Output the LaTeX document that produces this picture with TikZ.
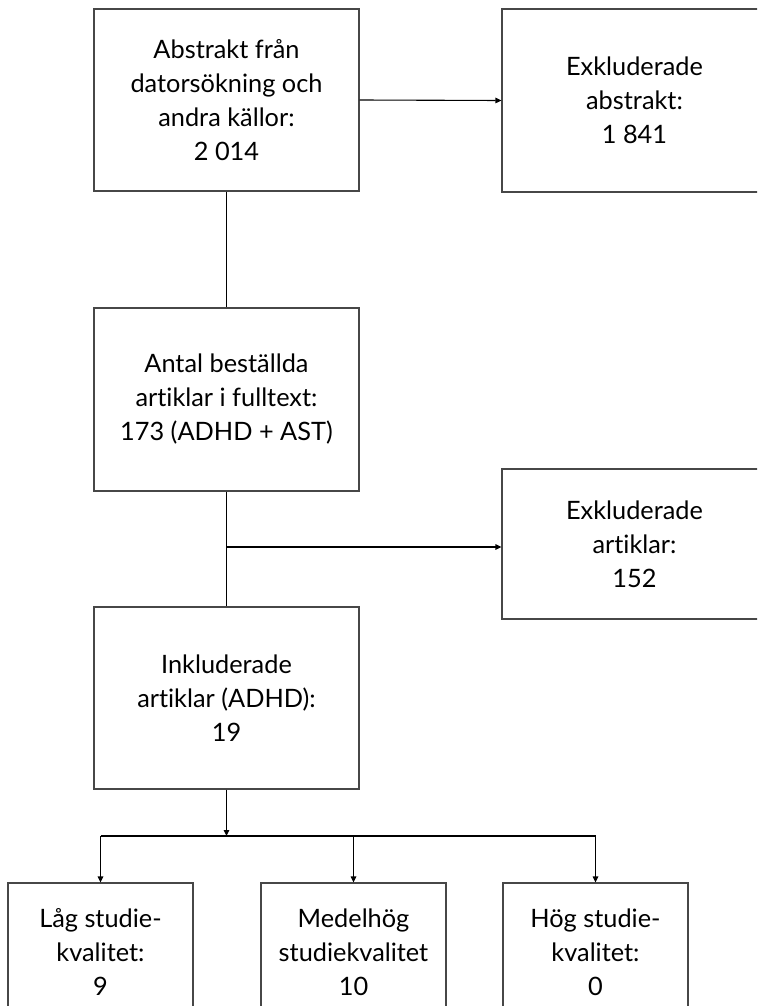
\documentclass[tikz,border=0pt]{standalone}
\usepackage{fontspec}
\setmainfont{Lato}[Ligatures={NoCommon}]
\usetikzlibrary{arrows.meta}
\tikzset{
  box/.style={draw=black!72, line width=0.825pt, rectangle, align=center, inner sep=0pt,
    minimum width=198.75pt, minimum height=136.5pt,
    font=\fontsize{19}{25.5}\selectfont},
  smallbox/.style={box, minimum width=138.75pt, minimum height=103.5pt},
  conn/.style={draw=black, line width=0.825pt},
  arr/.style={conn, -{Triangle[width=4.1pt,length=4.5pt]}}
}
\begin{document}
\begin{tikzpicture}[x=0.75pt, y=-0.75pt]
\useasboundingbox (0,0) rectangle (757,1006);
\clip (0,0) rectangle (757,1006);
\node[box] (b1) at (226.5,100) {Abstrakt från\\datorsökning och\\andra källor:\\2 014};
\node[box, minimum height=137.25pt] (b2) at (634.5,100.5) {Exkluderade\\abstrakt:\\1 841};
\node[box, minimum height=137.25pt] (b3) at (226.5,399.5) {Antal beställda\\artiklar i fulltext:\\173 (ADHD + AST)};
\node[box, minimum height=112.5pt] (b4) at (634.5,544) {Exkluderade\\artiklar:\\152};
\node[box] (b5) at (226.5,698) {Inkluderade\\artiklar (ADHD):\\19};
\node[smallbox] (b6) at (100.5,952) {Låg studie-\\kvalitet:\\9};
\node[smallbox] (b7) at (353.5,952) {Medelhög\\studiekvalitet\\10};
\node[smallbox] (b8) at (595.5,952) {Hög studie-\\kvalitet:\\0};
\coordinate (j1) at (226.5,547);
\coordinate (j2) at (226.5,836);
\draw[conn] (b1.south) -- (b3.north);
\draw[arr] (b1.east) -- (b2.west);
\draw[conn] (b3.south) -- (b5.north);
\draw[arr] (j1) -- (j1 -| b4.west);
\draw[arr] (b5.south) -- (j2);
\draw[conn] (b6.north |- j2) -- (b8.north |- j2);
\draw[arr] (b6.north |- j2) -- (b6.north);
\draw[arr] (b7.north |- j2) -- (b7.north);
\draw[arr] (b8.north |- j2) -- (b8.north);
\end{tikzpicture}
\end{document}
